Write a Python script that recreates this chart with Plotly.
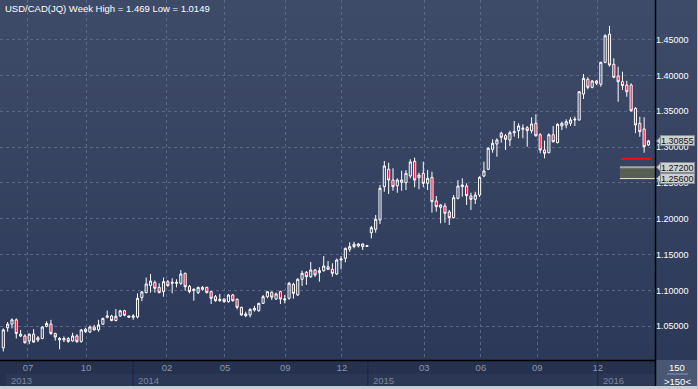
import plotly.graph_objects as go

title_text = "USD/CAD(JQ) Week High = 1.469 Low = 1.0149"

opens = [1.020,1.048,1.053,1.059,1.0365,1.0365,1.0295,1.039,1.031,1.033,
 1.050,1.053,1.040,1.031,1.031,1.033,1.0295,1.0365,1.029,1.046,
 1.042,1.049,1.045,1.053,1.0626,1.0644,1.058,1.0644,1.0717,1.0644,
 1.0626,1.063,1.090,1.097,1.107,1.111,1.1043,1.0983,1.1122,1.1099,
 1.1099,1.1099,1.1239,1.1057,1.0997,1.0969,1.1016,1.1043,1.0983,1.0913,
 1.0857,1.0881,1.0843,1.0937,1.0876,1.0764,1.0649,1.0658,1.0727,1.0717,
 1.0820,1.0913,1.0976,1.0881,1.0983,1.0867,1.0891,1.1086,1.0937,1.1156,
 1.1253,1.1192,1.1285,1.1248,1.1276,1.1331,1.1295,1.1229,1.1425,1.1449,
 1.1574,1.1611,1.1620,1.1611,1.1615,1.1805,1.1853,1.1983,1.2447,1.2690,
 1.2540,1.2461,1.2508,1.2503,1.2596,1.2801,1.2573,1.2634,1.2494,1.2578,
 1.2248,1.2160,1.2178,1.2094,1.2015,1.2285,1.2447,1.2457,1.2317,1.2271,
 1.2331,1.2596,1.2690,1.2969,1.3043,1.3192,1.3158,1.3098,1.3200,1.3228,
 1.3248,1.3270,1.3228,1.3331,1.3172,1.2959,1.2921,1.3172,1.3061,1.3294,
 1.3308,1.3331,1.3378,1.3378,1.3740,1.3945,1.3833,1.3921,1.3875,1.4182,
 1.4573,1.4154,1.3991,1.3911,1.3865,1.3865,1.3540,1.3331,1.3252,1.3030]

highs = [1.047,1.056,1.061,1.061,1.045,1.039,1.040,1.046,1.0365,1.050,
 1.057,1.059,1.041,1.035,1.036,1.035,1.041,1.039,1.046,1.048,
 1.051,1.052,1.059,1.062,1.072,1.066,1.074,1.073,1.073,1.065,
 1.067,1.096,1.099,1.118,1.123,1.114,1.1099,1.1180,1.1146,1.1170,
 1.1156,1.1285,1.1248,1.1076,1.1030,1.1052,1.1062,1.1052,1.0990,1.0937,
 1.0951,1.0890,1.0951,1.0951,1.0890,1.0774,1.0704,1.0751,1.0787,1.0829,
 1.0937,1.0990,1.0983,1.0970,1.0997,1.0937,1.112,1.1108,1.117,1.1276,
 1.127,1.1397,1.130,1.1323,1.1480,1.1411,1.1379,1.1445,1.148,1.1597,
 1.1672,1.1680,1.1660,1.1655,1.1626,1.1899,1.2052,1.2471,1.2805,1.2782,
 1.2704,1.2564,1.2670,1.2680,1.2829,1.2852,1.2642,1.2796,1.2680,1.2656,
 1.2317,1.2202,1.2215,1.2122,1.2331,1.2540,1.2564,1.2494,1.2363,1.2377,
 1.2592,1.2796,1.2998,1.3108,1.3122,1.3214,1.3182,1.3228,1.3363,1.3331,
 1.3317,1.3294,1.3415,1.3457,1.3192,1.3089,1.3191,1.3294,1.3331,1.3354,
 1.3387,1.3415,1.3424,1.3781,1.4019,1.3973,1.3935,1.3935,1.4191,1.4573,
 1.4690,1.4238,1.4121,1.4051,1.3925,1.3889,1.3554,1.3423,1.3415,1.3100]

lows = [1.0149,1.0425,1.047,1.033,1.035,1.026,1.025,1.027,1.028,1.032,
 1.0486,1.038,1.030,1.018,1.028,1.027,1.0285,1.027,1.027,1.041,
 1.0406,1.044,1.0425,1.052,1.061,1.057,1.057,1.063,1.064,1.062,
 1.059,1.061,1.085,1.096,1.097,1.097,1.0960,1.0913,1.1052,1.0960,
 1.1043,1.1076,1.0997,1.0960,1.0857,1.0951,1.0997,1.0960,1.0811,1.0843,
 1.0843,1.0829,1.0829,1.0843,1.0736,1.0649,1.0626,1.0626,1.0704,1.0704,
 1.0811,1.0890,1.0867,1.0867,1.0811,1.0820,1.087,1.0885,1.0925,1.1062,
 1.1078,1.1174,1.119,1.1122,1.1262,1.1285,1.1192,1.1215,1.1295,1.1393,
 1.1540,1.1588,1.1600,1.1564,1.1613,1.1727,1.1805,1.1927,1.2377,1.2345,
 1.2391,1.2363,1.2391,1.2401,1.2564,1.2439,1.2411,1.2439,1.2401,1.2085,
 1.2099,1.1937,1.1945,1.1913,1.2006,1.2271,1.2308,1.2192,1.2122,1.2206,
 1.2303,1.2580,1.2680,1.2921,1.2865,1.3061,1.2959,1.3015,1.3144,1.3122,
 1.3122,1.3005,1.3191,1.3144,1.2913,1.2843,1.2913,1.3061,1.3052,1.3238,
 1.3262,1.3294,1.3294,1.3368,1.3670,1.3805,1.3819,1.3865,1.3842,1.4168,
 1.4121,1.3959,1.3632,1.3796,1.3702,1.3493,1.3192,1.3144,1.2921,1.3015]

closes = [1.045,1.053,1.059,1.040,1.039,1.027,1.039,1.028,1.034,1.049,
 1.054,1.040,1.035,1.033,1.033,1.029,1.0365,1.0285,1.045,1.0425,
 1.049,1.045,1.052,1.061,1.0644,1.058,1.064,1.0717,1.0654,1.0626,
 1.0644,1.089,1.098,1.109,1.113,1.103,1.0969,1.1122,1.1066,1.1113,
 1.1113,1.1229,1.1052,1.0983,1.1016,1.1043,1.1043,1.0969,1.0890,1.0857,
 1.0876,1.0843,1.0937,1.0857,1.0764,1.0658,1.0672,1.0736,1.0751,1.0820,
 1.0913,1.0983,1.0906,1.0951,1.0881,1.0881,1.1100,1.0960,1.1156,1.1239,
 1.1192,1.1285,1.1216,1.1276,1.1341,1.1295,1.1239,1.1425,1.1439,1.1588,
 1.1611,1.1644,1.1648,1.1648,1.1624,1.1875,1.1992,1.2425,1.2736,1.2540,
 1.2447,1.2540,1.2540,1.2634,1.2792,1.2540,1.2610,1.2494,1.2564,1.2238,
 1.2168,1.2192,1.2076,1.2015,1.2294,1.2457,1.2471,1.2322,1.2271,1.2331,
 1.2578,1.2666,1.2983,1.3052,1.3098,1.3136,1.3108,1.3200,1.3214,1.3294,
 1.3262,1.3228,1.3322,1.3158,1.2959,1.2913,1.3172,1.3075,1.3317,1.3331,
 1.3354,1.3378,1.3387,1.3772,1.3959,1.3833,1.3921,1.3889,1.4182,1.4553,
 1.4144,1.3973,1.3911,1.3856,1.3772,1.3507,1.3308,1.3214,1.3005,1.30855]

month_pos = [5.7, 19.1, 37.8, 51.2, 65.1, 78.2, 97.2, 110.3, 123.3, 137.3]
month_labels = ["07", "10", "02", "05", "09", "12", "03", "06", "09", "12"]
year_pos = [0.62, 29.95, 84.2, 137.3]
year_labels = ["2013", "2014", "2015", "2016"]
price_ticks = [1.05, 1.10, 1.15, 1.20, 1.25, 1.30, 1.35, 1.40, 1.45]
last_price = 1.30855
zone_low, zone_high = 1.256, 1.272
red_level = 1.2836
bar_count_label = "150"

FONT = "Liberation Sans, Arial, sans-serif"

# ---------------- geometry -----------------
W, H = 698, 389
ML, MR, MT, MB = 0, 43, 0, 29
PW, PH = W - ML - MR, H - MT - MB   # 655 x 360

def px_x(p):   # pixel x -> paper x
    return (p - ML) / PW

def px_y(p):   # pixel y -> paper y
    return 1 - (p - MT) / PH

n = len(closes)
xs = list(range(n))

fig = go.Figure()
fig.add_trace(go.Candlestick(
    x=xs, open=opens, high=highs, low=lows, close=closes,
    increasing=dict(line=dict(color="#ffffff", width=1), fillcolor="rgba(0,0,0,0)"),
    decreasing=dict(line=dict(color="#ffffff", width=1), fillcolor="#e8083a"),
    whiskerwidth=0, showlegend=False, hoverinfo="skip",
))

shapes = []
# background gradient (plot + right axis area)
top_c = (62, 75, 104)
bot_c = (44, 57, 89)
nb = 45
for k in range(nb):
    t = k / (nb - 1)
    c = tuple(round(top_c[j] + (bot_c[j] - top_c[j]) * t) for j in range(3))
    y0p = PH * k / nb
    y1p = PH * (k + 1) / nb
    shapes.append(dict(type="rect", xref="paper", yref="paper",
                       x0=px_x(0), x1=px_x(W), y0=px_y(y1p + 0.5), y1=px_y(y0p),
                       fillcolor="rgb(%d,%d,%d)" % c, line=dict(width=0), layer="below"))
# year row band
shapes.append(dict(type="rect", xref="paper", yref="paper",
                   x0=px_x(6), x1=px_x(655), y0=px_y(386), y1=px_y(374),
                   fillcolor="#2b3755", line=dict(width=0), layer="below"))
# year separators
for yp in year_pos[1:]:
    shapes.append(dict(type="line", xref="x", yref="paper", x0=yp, x1=yp,
                       y0=px_y(386), y1=px_y(361), line=dict(color="#1c2640", width=1)))
# corner box
shapes.append(dict(type="rect", xref="paper", yref="paper",
                   x0=px_x(655), x1=px_x(W), y0=px_y(386), y1=px_y(360),
                   fillcolor="#4a5774", line=dict(width=0), layer="below"))
shapes.append(dict(type="line", xref="paper", yref="paper",
                   x0=px_x(667), x1=px_x(688), y0=px_y(374), y1=px_y(374),
                   line=dict(color="#8f99ae", width=1)))
# window border (bottom/right)
shapes.append(dict(type="rect", xref="paper", yref="paper",
                   x0=px_x(0), x1=px_x(W), y0=px_y(H), y1=px_y(386),
                   fillcolor="#c9cdd2", line=dict(width=0)))
shapes.append(dict(type="rect", xref="paper", yref="paper",
                   x0=px_x(697), x1=px_x(W), y0=px_y(H), y1=px_y(0),
                   fillcolor="#b8bec6", line=dict(width=0)))
# support zone box
shapes.append(dict(type="rect", xref="x", yref="y", x0=142.4, x1=150.5,
                   y0=zone_low, y1=zone_high, fillcolor="#565f52", line=dict(width=0)))
shapes.append(dict(type="line", xref="x", yref="y", x0=142.4, x1=150.5,
                   y0=zone_high, y1=zone_high, line=dict(color="#a3a7a2", width=2)))
shapes.append(dict(type="line", xref="x", yref="y", x0=142.4, x1=150.5,
                   y0=zone_low, y1=zone_low, line=dict(color="#efe9cc", width=1)))
# red level line
shapes.append(dict(type="line", xref="x", yref="y", x0=142.6, x1=149.6,
                   y0=red_level, y1=red_level, line=dict(color="#ee1111", width=2)))
# separators (black)
shapes.append(dict(type="line", xref="paper", yref="paper", x0=px_x(655.5), x1=px_x(655.5),
                   y0=px_y(386), y1=px_y(0), line=dict(color="#000000", width=1.5)))
shapes.append(dict(type="line", xref="paper", yref="paper", x0=px_x(0), x1=px_x(655.5),
                   y0=px_y(360.5), y1=px_y(360.5), line=dict(color="#000000", width=1.5)))

annotations = []
# price tags: small arrow (shape) + boxed label (annotation, drawn above tick labels)
ppu = 717.0  # pixels per price unit
def tag(price, label):
    hh = 5.0 / ppu
    path = "M %f,%f L %f,%f L %f,%f Z" % (
        px_x(656.5), price,
        px_x(661.5), price + hh,
        px_x(661.5), price - hh)
    shapes.append(dict(type="path", xref="paper", yref="y", path=path,
                       fillcolor="#cdd1d1", line=dict(color="#858b93", width=1)))
    annotations.append(dict(xref="paper", yref="y", x=px_x(660), y=price, text=label,
                            showarrow=False, xanchor="left", yanchor="middle",
                            width=33, height=9, align="left", valign="middle",
                            bgcolor="#cdd1d1", bordercolor="#858b93", borderwidth=1, borderpad=0,
                            font=dict(family=FONT, size=9, color="#111111")))

tag(last_price, "%.5f" % last_price)
tag(zone_high, "%.5f" % zone_high)
tag(zone_low, "%.5f" % zone_low)

# title
annotations.append(dict(xref="paper", yref="paper", x=px_x(3), y=px_y(8), text=title_text,
                        showarrow=False, xanchor="left", yanchor="middle",
                        font=dict(family=FONT, size=9.5, color="#ffffff")))
# year labels
for yp, yl in zip(year_pos, year_labels):
    annotations.append(dict(xref="x", yref="paper", x=yp, y=px_y(380), text=yl,
                            showarrow=False, xanchor="left", yanchor="middle", xshift=3,
                            font=dict(family=FONT, size=9.5, color="#7b869e")))
# corner labels
annotations.append(dict(xref="paper", yref="paper", x=px_x(677), y=px_y(367.5), text=bar_count_label,
                        showarrow=False, xanchor="center", yanchor="middle",
                        font=dict(family=FONT, size=9.5, color="#ffffff")))
annotations.append(dict(xref="paper", yref="paper", x=px_x(677), y=px_y(381), text="&gt;" + bar_count_label + "&lt;",
                        showarrow=False, xanchor="center", yanchor="middle",
                        font=dict(family=FONT, size=9.5, color="#ffffff")))

grid_c = "#5a6684"
fig.update_layout(
    width=W, height=H,
    margin=dict(l=ML, r=MR, t=MT, b=MB, pad=0),
    paper_bgcolor="#25314e",
    plot_bgcolor="rgba(0,0,0,0)",
    shapes=shapes,
    annotations=annotations,
    showlegend=False,
    xaxis=dict(
        range=[-0.762, 150.51], rangeslider=dict(visible=False),
        tickmode="array", tickvals=month_pos, ticktext=month_labels,
        showgrid=True, gridcolor=grid_c, griddash="3px,3px", gridwidth=1,
        zeroline=False, showline=False, ticks="",
        tickfont=dict(family=FONT, size=9.5, color="#8a95ad"),
        fixedrange=True,
    ),
    yaxis=dict(
        side="right", range=[1.00300, 1.50509],
        tickmode="array", tickvals=price_ticks, ticktext=["%.5f" % v for v in price_ticks],
        showgrid=True, gridcolor=grid_c, griddash="3px,3px", gridwidth=1,
        zeroline=False, showline=False, ticks="",
        tickfont=dict(family=FONT, size=9, color="#ffffff"),
        fixedrange=True,
    ),
)

fig.write_html("out.html", config={"displayModeBar": False},
               post_script="document.body.style.margin='0';document.body.style.padding='0';document.body.style.overflow='hidden';")
